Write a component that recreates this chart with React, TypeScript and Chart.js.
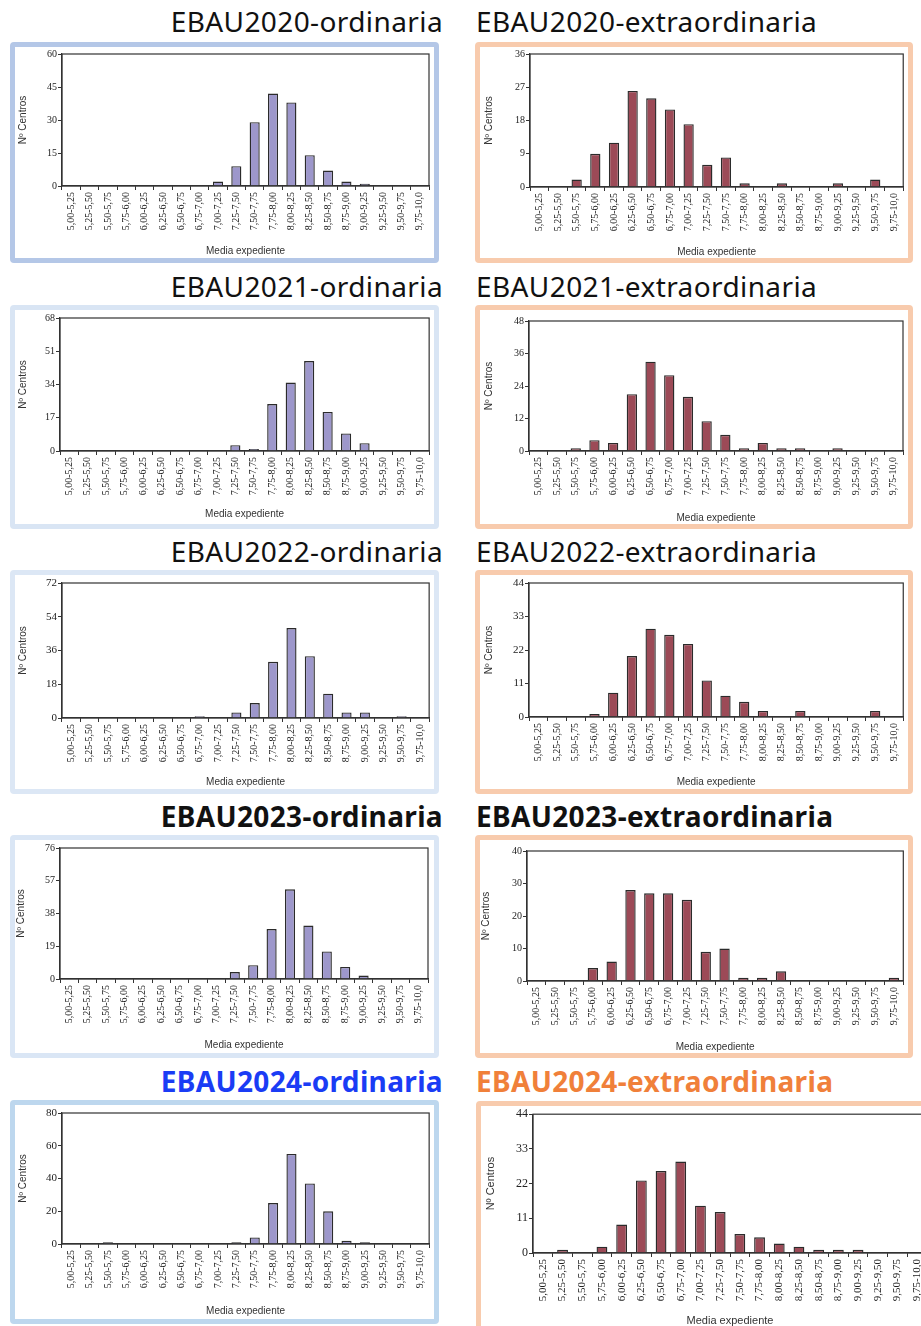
import React, { useEffect, useRef } from "react";
import { Chart, registerables } from "chart.js";
Chart.register(...registerables);

const categories = [
  "5,00-5,25", "5,25-5,50", "5,50-5,75", "5,75-6,00", "6,00-6,25",
  "6,25-6,50", "6,50-6,75", "6,75-7,00", "7,00-7,25", "7,25-7,50",
  "7,50-7,75", "7,75-8,00", "8,00-8,25", "8,25-8,50", "8,50-8,75",
  "8,75-9,00", "9,00-9,25", "9,25-9,50", "9,50-9,75", "9,75-10,0",
];

const ord2020 = [0, 0, 0, 0, 0, 0, 0, 0, 2, 9, 29, 42, 38, 14, 7, 2, 1, 0, 0, 0];
const extra2020 = [0, 0, 2, 9, 12, 26, 24, 21, 17, 6, 8, 1, 0, 1, 0, 0, 1, 0, 2, 0];
const ord2021 = [0, 0, 0, 0, 0, 0, 0, 0, 0, 3, 1, 24, 35, 46, 20, 9, 4, 0, 0, 0];
const extra2021 = [0, 0, 1, 4, 3, 21, 33, 28, 20, 11, 6, 1, 3, 1, 1, 0, 1, 0, 0, 0];
const ord2022 = [0, 0, 0, 0, 0, 0, 0, 1, 0, 3, 8, 30, 48, 33, 13, 3, 3, 0, 1, 0];
const extra2022 = [0, 0, 0, 1, 8, 20, 29, 27, 24, 12, 7, 5, 2, 0, 2, 0, 0, 0, 2, 0];
const ord2023 = [0, 0, 0, 0, 0, 0, 0, 0, 0, 4, 8, 29, 52, 31, 16, 7, 2, 0, 0, 0];
const extra2023 = [0, 0, 0, 4, 6, 28, 27, 27, 25, 9, 10, 1, 1, 3, 0, 0, 0, 0, 0, 1];
const ord2024 = [0, 0, 1, 0, 0, 0, 0, 0, 0, 1, 4, 25, 55, 37, 20, 2, 1, 0, 0, 0];
const extra2024 = [0, 1, 0, 2, 9, 23, 26, 29, 15, 13, 6, 5, 3, 2, 1, 1, 1, 0, 0, 0];

const ordMax = [60, 68, 72, 76, 80];
const extraMax = [36, 48, 44, 40, 44];

const ordTitles = ["EBAU2020-ordinaria", "EBAU2021-ordinaria", "EBAU2022-ordinaria", "EBAU2023-ordinaria", "EBAU2024-ordinaria"];
const extraTitles = ["EBAU2020-extraordinaria", "EBAU2021-extraordinaria", "EBAU2022-extraordinaria", "EBAU2023-extraordinaria", "EBAU2024-extraordinaria"];

const yTitle = "Nº Centros";
const xTitle = "Media expediente";

const ORD_FILL = "#9d97cb";
const EXTRA_FILL = "#9c4a57";

type PanelDef = {
  values: number[];
  max: number;
  fill: string;
  frameColor: string;
  inner: number[];
  plot: number[];
  yT: number;
  xT: number;
  tickSize: number;
  yTickSize: number;
  titleSize: number;
};

const LEFT_FRAMES = ["#b4c7e7", "#d9e5f4", "#dce7f5", "#dae6f5", "#bdd7ee"];
const RIGHT_FRAME = "#f8cbad";

const panels: PanelDef[] = [
  { values: ord2020, max: ordMax[0], fill: ORD_FILL, frameColor: LEFT_FRAMES[0], inner: [15, 47, 434, 258], plot: [62, 54, 429, 186], yT: 23, xT: 251, tickSize: 10, yTickSize: 10, titleSize: 10 },
  { values: extra2020, max: extraMax[0], fill: EXTRA_FILL, frameColor: RIGHT_FRAME, inner: [480, 47, 908, 258], plot: [530, 53, 904, 187], yT: 489, xT: 252, tickSize: 10, yTickSize: 10, titleSize: 10 },
  { values: ord2021, max: ordMax[1], fill: ORD_FILL, frameColor: LEFT_FRAMES[1], inner: [15, 310, 434, 524], plot: [60, 318, 431, 451], yT: 23, xT: 514, tickSize: 10, yTickSize: 10, titleSize: 10 },
  { values: extra2021, max: extraMax[1], fill: EXTRA_FILL, frameColor: RIGHT_FRAME, inner: [480, 310, 908, 524], plot: [529, 321, 903, 451], yT: 489, xT: 518, tickSize: 10, yTickSize: 10, titleSize: 10 },
  { values: ord2022, max: ordMax[2], fill: ORD_FILL, frameColor: LEFT_FRAMES[2], inner: [15, 575, 434, 789], plot: [62, 583, 433, 718], yT: 23, xT: 782, tickSize: 10, yTickSize: 11, titleSize: 10 },
  { values: extra2022, max: extraMax[2], fill: EXTRA_FILL, frameColor: RIGHT_FRAME, inner: [480, 575, 908, 789], plot: [529, 583, 904, 717], yT: 489, xT: 782, tickSize: 10, yTickSize: 11, titleSize: 10 },
  { values: ord2023, max: ordMax[3], fill: ORD_FILL, frameColor: LEFT_FRAMES[3], inner: [15, 840, 434, 1053], plot: [60, 848, 428, 979], yT: 20, xT: 1045, tickSize: 10, yTickSize: 10, titleSize: 10 },
  { values: extra2023, max: extraMax[3], fill: EXTRA_FILL, frameColor: RIGHT_FRAME, inner: [480, 840, 908, 1053], plot: [527, 851, 904, 981], yT: 486, xT: 1047, tickSize: 10, yTickSize: 10, titleSize: 10 },
  { values: ord2024, max: ordMax[4], fill: ORD_FILL, frameColor: LEFT_FRAMES[4], inner: [15, 1105, 434, 1319], plot: [62, 1113, 433, 1244], yT: 23, xT: 1311, tickSize: 10, yTickSize: 11, titleSize: 10 },
  { values: extra2024, max: extraMax[4], fill: EXTRA_FILL, frameColor: RIGHT_FRAME, inner: [481, 1106, 955, 1360], plot: [533, 1113, 927, 1253], yT: 491, xT: 1321, tickSize: 11, yTickSize: 12, titleSize: 11 },
];

const boxPlugin = {
  id: "plotBox",
  afterDatasetsDraw(chart: any) {
    const { ctx, chartArea: a } = chart;
    ctx.save();
    ctx.strokeStyle = "#333";
    ctx.lineWidth = 1.2;
    ctx.strokeRect(a.left, a.top, a.right - a.left, a.bottom - a.top);
    ctx.restore();
  },
};

function Panel({ p }: { p: PanelDef }) {
  const ref = useRef<HTMLCanvasElement>(null);
  const [ix0, iy0, ix1, iy1] = p.inner;
  const cw = ix1 - ix0;
  const ch = iy1 - iy0;
  useEffect(() => {
    if (!ref.current) return;
    const yw = p.plot[0] - ix0;
    const pt = p.plot[1] - iy0;
    const pr = Math.max(0, ix1 - p.plot[2]);
    const xh = iy1 - p.plot[3];
    const lh = p.titleSize * 1.2;
    const yPad = Math.max(0, p.yT - ix0 - lh / 2);
    const xPad = Math.max(0, iy1 - p.xT - lh / 2);
    const chart = new Chart(ref.current, {
      type: "bar",
      data: {
        labels: categories,
        datasets: [
          {
            data: p.values,
            backgroundColor: p.fill,
            borderColor: "#2b2b2b",
            borderWidth: 1.4,
            barPercentage: 0.55,
            categoryPercentage: 1,
          },
        ],
      },
      options: {
        responsive: false,
        animation: false,
        devicePixelRatio: 1,
        layout: { padding: { left: 0, top: pt, right: pr, bottom: 0 } },
        plugins: { legend: { display: false }, tooltip: { enabled: false } },
        scales: {
          x: {
            grid: { offset: true, drawOnChartArea: false, drawTicks: true, tickLength: 4, color: "#333", lineWidth: 1 },
            border: { display: true, color: "#333", width: 1.2 },
            ticks: {
              autoSkip: false,
              minRotation: 90,
              maxRotation: 90,
              padding: 2,
              color: "#222",
              font: { family: "'Liberation Serif', 'DejaVu Serif', serif", size: p.tickSize },
            },
            title: {
              display: true,
              text: xTitle,
              color: "#333",
              font: { family: "'Liberation Sans', Arial, sans-serif", size: p.titleSize },
              padding: { top: 0, bottom: xPad },
            },
            afterFit: (s: any) => {
              s.height = xh;
            },
          },
          y: {
            min: 0,
            max: p.max,
            grid: { drawOnChartArea: false, drawTicks: true, tickLength: 4, color: "#333" },
            border: { display: true, color: "#333", width: 1.2 },
            ticks: {
              stepSize: p.max / 4,
              padding: 1,
              color: "#222",
              font: { family: "'Liberation Serif', 'DejaVu Serif', serif", size: p.yTickSize },
            },
            title: {
              display: true,
              text: yTitle,
              color: "#333",
              font: { family: "'Liberation Sans', Arial, sans-serif", size: p.titleSize },
              padding: { top: yPad, bottom: 0 },
            },
            afterFit: (s: any) => {
              s.width = yw;
            },
          },
        },
      },
      plugins: [boxPlugin],
    } as any);
    return () => chart.destroy();
  }, []);
  return (
    <>
      <div
        style={{
          position: "absolute",
          left: ix0 - 5,
          top: iy0 - 5,
          width: cw + 10,
          height: ch + 10,
          border: `5px solid ${p.frameColor}`,
          borderRadius: 4,
          boxSizing: "border-box",
          background: "#fff",
        }}
      />
      <canvas
        ref={ref}
        width={cw}
        height={ch}
        style={{ position: "absolute", left: ix0, top: iy0, width: cw, height: ch }}
      />
    </>
  );
}

const titleTops = [1, 266, 531, 796, 1061];

export default function App() {
  return (
    <div
      style={{
        position: "absolute",
        left: 0,
        top: 0,
        width: 921,
        height: 1326,
        overflow: "hidden",
        background: "#fff",
      }}
    >
      {titleTops.map((t, i) => {
        const bold = i >= 3;
        const leftColor = i === 4 ? "#1a3cf5" : "#111";
        const rightColor = i === 4 ? "#f0803a" : "#111";
        const common = {
          position: "absolute" as const,
          top: t,
          fontFamily: "'Noto Sans', Roboto, sans-serif",
          fontSize: 28,
          lineHeight: "40px",
          fontWeight: bold ? 700 : 400,
          letterSpacing: bold ? "0.35px" : "0.4px",
          whiteSpace: "nowrap" as const,
        };
        return (
          <React.Fragment key={i}>
            <div style={{ ...common, left: 0, width: 443, textAlign: "right", color: leftColor }}>{ordTitles[i]}</div>
            <div style={{ ...common, left: 476, color: rightColor }}>{extraTitles[i]}</div>
          </React.Fragment>
        );
      })}
      {panels.map((p, i) => (
        <Panel key={i} p={p} />
      ))}
    </div>
  );
}
